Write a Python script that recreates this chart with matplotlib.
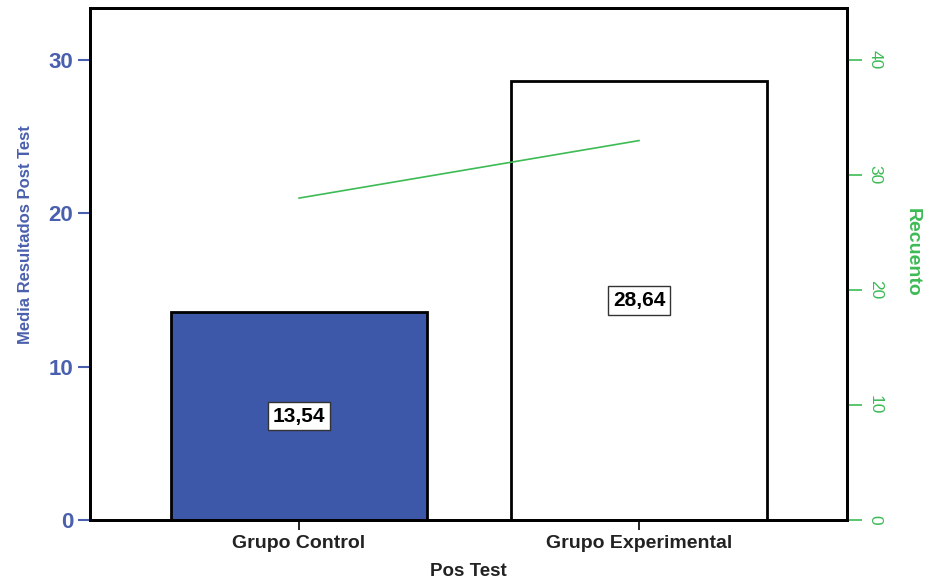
import numpy as np
import matplotlib
matplotlib.use("Agg")
from matplotlib import pyplot as plt

plt.rcParams['font.family'] = ['Liberation Sans', 'DejaVu Sans']

grupos = ["Grupo Control", "Grupo Experimental"]
medias = [13.54, 28.64]
recuento = [28, 33]
etiquetas = ["13,54", "28,64"]

azul = "#3d57a9"
azul_txt = "#4a60ae"
verde = "#3dbb55"

fig = plt.figure(figsize=(9.34, 5.84), dpi=100)
ax = fig.add_axes([90 / 934, 1 - 520 / 584, 757 / 934, 512 / 584])

x = np.arange(len(grupos))
colores = [azul, "white"]
ax.bar(x, medias, width=0.753, color=colores, edgecolor="black", linewidth=2, zorder=2)

# etiquetas de valor en medio de cada barra
for xi, m, t in zip(x, medias, etiquetas):
    ax.text(xi, m / 2, t, ha="center", va="center", fontsize=15, fontweight="bold",
            bbox=dict(boxstyle="square,pad=0.22", fc="white", ec="#333333", lw=1), zorder=4)

ax.set_xlim(-0.615, 1.612)
ax.set_ylim(0, 33.4)
ax.set_yticks([0, 10, 20, 30])
ax.set_xticks(x)
ax.set_xticklabels(grupos, fontsize=14, fontweight="bold", color="#222222")
ax.tick_params(axis="y", colors=azul_txt, labelsize=16, length=9, width=1.5, pad=3)
for lab in ax.get_yticklabels():
    lab.set_fontweight("bold")
ax.tick_params(axis="x", length=7, width=1.2, pad=4)
ax.set_xlabel("Pos Test", fontsize=13.5, fontweight="bold", color="#222222", labelpad=8)
ax.set_ylabel("Media Resultados Post Test", fontsize=12, fontweight="bold", color=azul_txt)
ax.yaxis.set_label_coords(-0.075, 0.557)
for s in ax.spines.values():
    s.set_linewidth(2)
    s.set_color("black")

ax2 = ax.twinx()
ax2.plot(x, recuento, color=verde, linewidth=1.2, zorder=3)
ax2.set_ylim(0, 33.4 * 4 / 3)
ax2.set_yticks([0, 10, 20, 30, 40])
ax2.tick_params(axis="y", colors=verde, labelsize=12.5, length=11, width=1.2, pad=4)
for lab in ax2.get_yticklabels():
    lab.set_rotation(-90)
    lab.set_va("center")
ax2.set_ylabel("Recuento", fontsize=14, fontweight="bold", color=verde, rotation=-90)
ax2.yaxis.set_label_coords(1.097, 0.523)
for s in ax2.spines.values():
    s.set_linewidth(2)
    s.set_color("black")

fig.savefig("out.png", dpi=100)
